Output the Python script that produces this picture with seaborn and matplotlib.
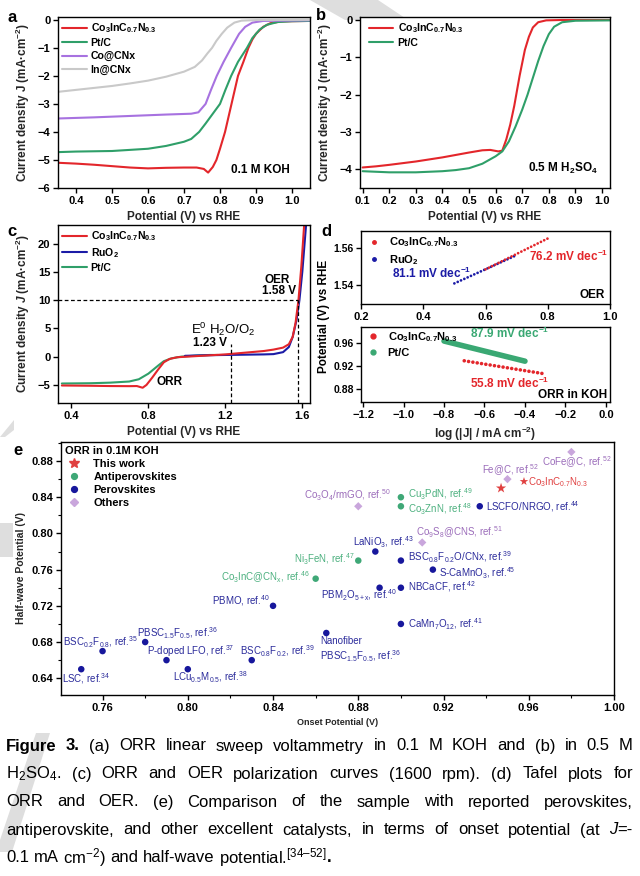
import seaborn as sns
import matplotlib.pyplot as plt
from matplotlib.lines import Line2D
from matplotlib.patches import Polygon
from matplotlib.ticker import MultipleLocator

# ---------------- data ----------------
# (a) ORR LSV in 0.1 M KOH
a_co3_x = [0.35, 0.40, 0.45, 0.50, 0.55, 0.60, 0.65, 0.70, 0.735, 0.755, 0.767, 0.78, 0.79, 0.80, 0.814,
           0.832, 0.85, 0.865, 0.879, 0.89, 0.90, 0.92, 0.94, 0.97, 1.00, 1.05]
a_co3_y = [-5.10, -5.13, -5.17, -5.22, -5.27, -5.30, -5.28, -5.27, -5.27, -5.32, -5.45, -5.25, -5.0, -4.6, -4.0,
           -3.0, -2.0, -1.5, -1.0, -0.7, -0.5, -0.25, -0.12, -0.06, -0.05, -0.04]
a_pt_x = [0.35, 0.40, 0.50, 0.60, 0.65, 0.70, 0.72, 0.742, 0.76, 0.78, 0.80, 0.815, 0.831, 0.85, 0.875,
          0.89, 0.91, 0.93, 0.96, 1.00, 1.05]
a_pt_y = [-4.72, -4.70, -4.68, -4.60, -4.50, -4.35, -4.25, -4.0, -3.7, -3.35, -3.0, -2.5, -2.0, -1.5, -1.0,
          -0.65, -0.35, -0.18, -0.08, -0.05, -0.04]
a_co_x = [0.35, 0.45, 0.55, 0.65, 0.72, 0.74, 0.76, 0.775, 0.791, 0.81, 0.831, 0.853, 0.87, 0.89, 0.92, 1.05]
a_co_y = [-3.52, -3.48, -3.43, -3.38, -3.35, -3.30, -3.0, -2.5, -2.0, -1.5, -1.0, -0.5, -0.25, -0.1, -0.04, -0.02]
a_in_x = [0.35, 0.40, 0.45, 0.50, 0.55, 0.60, 0.65, 0.70, 0.73, 0.75, 0.765, 0.778, 0.79, 0.805, 0.82,
          0.84, 0.86, 0.90, 1.05]
a_in_y = [-2.57, -2.50, -2.43, -2.36, -2.27, -2.17, -2.03, -1.85, -1.68, -1.45, -1.2, -1.0, -0.75, -0.5, -0.28,
          -0.1, -0.03, -0.01, 0.0]

# (b) ORR LSV in 0.5 M H2SO4
b_co3_x = [0.10, 0.15, 0.20, 0.30, 0.40, 0.50, 0.55, 0.58, 0.61, 0.625, 0.64, 0.655, 0.67, 0.68, 0.69, 0.70,
           0.71, 0.725, 0.74, 0.76, 0.79, 0.85, 1.03]
b_co3_y = [-3.95, -3.92, -3.88, -3.79, -3.68, -3.55, -3.49, -3.48, -3.52, -3.50, -3.2, -2.8, -2.3, -1.9, -1.5,
           -1.15, -0.8, -0.45, -0.2, -0.06, -0.01, 0.0, 0.0]
b_pt_x = [0.10, 0.20, 0.30, 0.40, 0.45, 0.50, 0.55, 0.60, 0.625, 0.65, 0.675, 0.70, 0.72, 0.74, 0.76, 0.78,
          0.80, 0.82, 0.85, 0.90, 1.03]
b_pt_y = [-4.05, -4.08, -4.08, -4.05, -4.02, -3.97, -3.85, -3.65, -3.52, -3.25, -2.85, -2.4, -2.0, -1.55, -1.1,
          -0.7, -0.38, -0.18, -0.06, -0.02, -0.01]

# (c) ORR + OER polarization
c_co3_x = [0.35, 0.50, 0.60, 0.70, 0.74, 0.77, 0.79, 0.82, 0.85, 0.88, 0.91, 0.95, 1.00, 1.10, 1.20, 1.30,
           1.40, 1.45, 1.50, 1.53, 1.55, 1.565, 1.58, 1.595, 1.61]
c_co3_y = [-5.1, -5.15, -5.2, -5.22, -5.2, -5.5, -5.0, -3.7, -2.3, -1.0, -0.4, -0.1, 0.0, 0.2, 0.4, 0.7,
           1.0, 1.25, 1.6, 2.2, 3.5, 6.0, 10.0, 16.0, 23.5]
c_ru_x = [0.99, 1.10, 1.20, 1.30, 1.40, 1.45, 1.50, 1.53, 1.55, 1.57, 1.585, 1.60, 1.62]
c_ru_y = [0.15, 0.25, 0.30, 0.35, 0.40, 0.45, 0.8, 1.7, 3.5, 6.5, 10.0, 15.0, 23.5]
c_pt_x = [0.35, 0.50, 0.60, 0.70, 0.75, 0.80, 0.85, 0.88, 0.92, 0.97, 1.05, 1.12, 1.16]
c_pt_y = [-4.75, -4.70, -4.60, -4.40, -4.0, -3.0, -1.6, -0.8, -0.3, 0.0, 0.2, 0.3, 0.3]
J_OER = 10
E_OER = 1.58
E_EQ = 1.23

# (d) Tafel fits (end points of each fitted segment)
oer_co3_x = [0.60, 0.80]
oer_co3_y = [1.5485, 1.5650]
oer_ru_x = [0.50, 0.70]
oer_ru_y = [1.5410, 1.5561]
orr_co3_x = [-0.70, -0.30]
orr_co3_y = [0.9290, 0.9060]
orr_pt_x = [-0.80, -0.40]
orr_pt_y = [0.9635, 0.9283]

# (e) onset vs half-wave potential
e_onset = [0.75, 0.76, 0.78, 0.79, 0.80, 0.83, 0.84, 0.86, 0.88, 0.865, 0.88, 0.888, 0.89, 0.90,
           0.90, 0.90, 0.90, 0.90, 0.91, 0.915, 0.937, 0.947, 0.95, 0.98]
e_half = [0.65, 0.67, 0.68, 0.66, 0.65, 0.66, 0.72, 0.75, 0.77, 0.69, 0.83, 0.78, 0.74, 0.84,
          0.83, 0.77, 0.74, 0.70, 0.79, 0.76, 0.83, 0.85, 0.86, 0.89]
e_group = ['Perovskites'] * 7 + ['Antiperovskites'] * 2 + ['Perovskites', 'Others', 'Perovskites',
           'Perovskites', 'Antiperovskites', 'Antiperovskites', 'Perovskites', 'Perovskites', 'Perovskites',
           'Others', 'Perovskites', 'Perovskites', 'This work', 'Others', 'Others']
e_names = ['LSC, ref.$^{34}$', 'BSC$_{0.2}$F$_{0.8}$, ref.$^{35}$', 'PBSC$_{1.5}$F$_{0.5}$, ref.$^{36}$',
           'P-doped LFO, ref.$^{37}$', 'LCu$_{0.5}$M$_{0.5}$, ref.$^{38}$', 'BSC$_{0.8}$F$_{0.2}$, ref.$^{39}$',
           'PBMO, ref.$^{40}$', 'Co$_3$InC@CN$_x$, ref.$^{46}$', 'Ni$_3$FeN, ref.$^{47}$',
           'Nanofiber\nPBSC$_{1.5}$F$_{0.5}$, ref.$^{36}$', 'Co$_3$O$_4$/rmGO, ref.$^{50}$',
           'LaNiO$_3$, ref.$^{43}$', 'PBM$_2$O$_{5+x}$, ref.$^{40}$', 'Cu$_3$PdN, ref.$^{49}$',
           'Co$_3$ZnN, ref.$^{48}$', 'BSC$_{0.8}$F$_{0.2}$O/CNx, ref.$^{39}$', 'NBCaCF, ref.$^{42}$',
           'CaMn$_7$O$_{12}$, ref.$^{41}$', 'Co$_9$S$_8$@CNS, ref.$^{51}$', 'S-CaMnO$_3$, ref.$^{45}$',
           'LSCFO/NRGO, ref.$^{44}$', 'Co$_3$InC$_{0.7}$N$_{0.3}$', 'Fe@C, ref.$^{52}$', 'CoFe@C, ref.$^{52}$']
e_groups_order = ['This work', 'Antiperovskites', 'Perovskites', 'Others']

# label placement for (e): offset in px from the point, horizontal alignment
e_label_pos = [(-19, -9, 'left'), (-40, 9, 'left'), (-8, 9, 'left'), (-19, 9, 'left'), (-15, -8.5, 'left'),
               (-12, 9, 'left'), (-3, 5, 'right'), (-6, 1, 'right'), (-4, 1.6, 'right'), (-6, -3, 'left'),
               (-11, 11, 'center'), (8, 9.6, 'center'), (17, -7.3, 'right'), (7, 2.8, 'left'),
               (7, -3, 'left'), (7, 2.8, 'left'), (7, 1, 'left'), (7, 0, 'left'), (-6.6, 10, 'left'),
               (6, -3.5, 'left'), (6, 0, 'left'), (27, 5.7, 'left'), (3, 9, 'center'), (5, -10, 'center')]

CO3 = 'Co$_3$InC$_{0.7}$N$_{0.3}$'
RED = '#e3262b'
GREEN = '#2f9f69'
PURPLE = '#a772e0'
GREY = '#c9c9c9'
BLUE = '#1b1ba6'
MARK = {'This work': ('*', '#e04040', 60), 'Antiperovskites': ('o', '#3fa877', 22),
        'Perovskites': ('o', '#17179c', 22), 'Others': ('D', '#c9a6dc', 18)}
TEXTC = {'This work': '#e04040', 'Antiperovskites': '#4cb07f', 'Perovskites': '#2b2b9b',
         'Others': '#9b6cba'}

# ---------------- style ----------------
sns.set_theme(style='ticks')
plt.rcParams['font.family'] = ['Liberation Sans', 'DejaVu Sans']
plt.rcParams.update({
    'font.weight': 'bold', 'axes.labelweight': 'bold',
    'mathtext.fontset': 'custom', 'mathtext.default': 'regular',
    'mathtext.rm': 'Liberation Sans', 'mathtext.it': 'Liberation Sans:italic:bold',
    'mathtext.bf': 'Liberation Sans:bold',
    'axes.linewidth': 1.0, 'axes.edgecolor': 'black',
    'xtick.labelsize': 8, 'ytick.labelsize': 8, 'axes.labelsize': 8.5,
    'xtick.major.size': 3.5, 'ytick.major.size': 3.5, 'xtick.minor.size': 2, 'ytick.minor.size': 2,
    'xtick.major.width': 1, 'ytick.major.width': 1, 'xtick.major.pad': 2, 'ytick.major.pad': 2,
    'xtick.color': 'black', 'ytick.color': 'black', 'text.color': 'black',
})

fig = plt.figure(figsize=(6.4, 8.76), dpi=100)


def axes_px(l, t, r, b):
    return fig.add_axes([l / 640, 1 - b / 876, (r - l) / 640, (b - t) / 876])


def fig_xy(x, y):
    return (x / 640, 1 - y / 876)


# watermark-like grey strokes of the scan
for pts in ([(310, 0), (378, 0), (408, 20), (345, 20)],
            [(0, 523), (13, 523), (13, 557), (0, 557)],
            [(0, 437), (14, 420), (14, 430), (5, 437)],
            [(36, 733), (50, 733), (12, 852), (0, 852), (0, 840)]):
    fig.add_artist(Polygon([fig_xy(*p) for p in pts], closed=True, transform=fig.transFigure,
                           facecolor='#dedede', edgecolor='none', zorder=0))


def line_legend(ax, handles=None, labels=None, **kw):
    args = [] if handles is None else [handles, labels]
    ax.legend(*args, loc='upper left', frameon=False, fontsize=7.6, handlelength=2.3, handletextpad=0.4,
              labelspacing=0.3, borderaxespad=0.2, borderpad=0.2, **kw)


# ---------------- (a) ----------------
ax = axes_px(58, 17, 310, 188)
sns.lineplot(x=a_co3_x, y=a_co3_y, ax=ax, color=RED, lw=1.5, label=CO3)
sns.lineplot(x=a_pt_x, y=a_pt_y, ax=ax, color=GREEN, lw=1.5, label='Pt/C')
sns.lineplot(x=a_co_x, y=a_co_y, ax=ax, color=PURPLE, lw=1.5, label='Co@CNx')
sns.lineplot(x=a_in_x, y=a_in_y, ax=ax, color=GREY, lw=1.5, label='In@CNx')
ax.set_xlim(0.35, 1.05)
ax.set_ylim(-6, 0.1)
ax.xaxis.set_major_locator(MultipleLocator(0.1))
ax.yaxis.set_major_locator(MultipleLocator(1))
ax.set_xlabel('Potential (V) vs RHE')
ax.set_ylabel('Current density J (mA·cm$^{-2}$)')
ax.text(0.92, 0.07, '0.1 M KOH', transform=ax.transAxes, ha='right', va='bottom', fontsize=8.5)
line_legend(ax)

# ---------------- (b) ----------------
ax = axes_px(360, 17, 610, 188)
sns.lineplot(x=b_co3_x, y=b_co3_y, ax=ax, color=RED, lw=1.5, label=CO3)
sns.lineplot(x=b_pt_x, y=b_pt_y, ax=ax, color=GREEN, lw=1.5, label='Pt/C')
ax.set_xlim(0.09, 1.03)
ax.set_ylim(-4.5, 0.08)
ax.xaxis.set_major_locator(MultipleLocator(0.1))
ax.yaxis.set_major_locator(MultipleLocator(1))
ax.set_xlabel('Potential (V) vs RHE')
ax.set_ylabel('Current density J (mA·cm$^{-2}$)')
ax.text(0.95, 0.07, '0.5 M H$_2$SO$_4$', transform=ax.transAxes, ha='right', va='bottom', fontsize=8.5)
line_legend(ax, bbox_to_anchor=(0.02, 1.0))

# ---------------- (c) ----------------
ax = axes_px(58, 225, 310, 403)
sns.lineplot(x=c_pt_x, y=c_pt_y, ax=ax, color=GREEN, lw=1.5, label='Pt/C', sort=False)
sns.lineplot(x=c_ru_x, y=c_ru_y, ax=ax, color=BLUE, lw=1.5, label='RuO$_2$', sort=False)
sns.lineplot(x=c_co3_x, y=c_co3_y, ax=ax, color=RED, lw=1.5, label=CO3, sort=False)
ax.set_xlim(0.33, 1.64)
ax.set_ylim(-8.2, 23.3)
ax.hlines(J_OER, 0.33, E_OER, colors='black', linestyles=(0, (3, 2)), lw=0.9)
ax.vlines(E_OER, -8.2, J_OER, colors='black', linestyles=(0, (3, 2)), lw=0.9)
ax.vlines(E_EQ, -8.2, 2.3, colors='black', linestyles=(0, (3, 2)), lw=0.9)
ax.xaxis.set_major_locator(MultipleLocator(0.4))
ax.yaxis.set_major_locator(MultipleLocator(5))
ax.set_xlabel('Potential (V) vs RHE')
ax.set_ylabel('Current density $\\mathit{J}$ (mA·cm$^{-2}$)')
ax.text(1.47, 13.6, 'OER', ha='center', va='center', fontsize=8.5)
ax.text(1.48, 11.6, '1.58 V', ha='center', va='center', fontsize=8.5)
ax.text(1.19, 4.9, 'E$^0$ H$_2$O/O$_2$', ha='center', va='center', fontsize=9.5, fontweight='normal')
ax.text(1.12, 2.4, '1.23 V', ha='center', va='center', fontsize=8.5)
ax.text(0.91, -4.4, 'ORR', ha='center', va='center', fontsize=8.5)
h, l = ax.get_legend_handles_labels()
line_legend(ax, h[::-1], l[::-1])

# ---------------- (d) ----------------
dots = dict(dash_capstyle='round')
ax = axes_px(361, 231, 610, 304)
sns.lineplot(x=oer_ru_x, y=oer_ru_y, ax=ax, color=BLUE, lw=2.0, ls=(0, (0.01, 1.3)), **dots)
sns.lineplot(x=oer_co3_x, y=oer_co3_y, ax=ax, color=RED, lw=2.0, ls=(0, (0.01, 1.3)), **dots)
ax.set_xlim(0.2, 1.0)
ax.set_ylim(1.530, 1.569)
ax.xaxis.set_major_locator(MultipleLocator(0.2))
ax.yaxis.set_major_locator(MultipleLocator(0.02))
ax.tick_params(axis='y', labelsize=7.5, pad=1.5)
ax.text(0.74, 1.5555, '76.2 mV dec$^{-1}$', color=RED, fontsize=8.5, va='center')
ax.text(0.30, 1.5464, '81.1 mV dec$^{-1}$', color=BLUE, fontsize=8.5, va='center')
ax.text(0.985, 1.5315, 'OER', ha='right', va='bottom', fontsize=8.5)
ax.legend([Line2D([], [], marker='o', ls='', color=RED, ms=2.5),
           Line2D([], [], marker='o', ls='', color=BLUE, ms=2.5)], [CO3, 'RuO$_2$'],
          loc='upper left', frameon=False, fontsize=8, handlelength=1.5, handletextpad=0.6,
          labelspacing=0.35, borderaxespad=0.2, borderpad=0.2)

ax = axes_px(361, 327, 610, 402)
sns.lineplot(x=orr_pt_x, y=orr_pt_y, ax=ax, color='#3aa873', lw=4.0)
sns.lineplot(x=orr_co3_x, y=orr_co3_y, ax=ax, color=RED, lw=2.6, ls=(0, (0.01, 1.2)), **dots)
ax.set_xlim(-1.21, 0.02)
ax.set_ylim(0.857, 0.988)
ax.xaxis.set_major_locator(MultipleLocator(0.2))
ax.yaxis.set_major_locator(MultipleLocator(0.04))
ax.tick_params(axis='y', labelsize=7.5, pad=1.5)
ax.set_xlabel('log (|J| / mA cm$^{-2}$)')
ax.text(-0.67, 0.976, '87.9 mV dec$^{-1}$', color='#3aa873', fontsize=8.5, va='center')
ax.text(-0.67, 0.890, '55.8 mV dec$^{-1}$', color=RED, fontsize=8.5, va='center')
ax.text(0.005, 0.859, 'ORR in KOH', ha='right', va='bottom', fontsize=8.5)
ax.legend([Line2D([], [], marker='o', ls='', color=RED, ms=3.5),
           Line2D([], [], marker='o', ls='', color='#3aa873', ms=3.5)], [CO3, 'Pt/C'],
          loc='upper left', frameon=False, fontsize=8, handlelength=1.5, handletextpad=0.6,
          labelspacing=0.35, borderaxespad=0.2, borderpad=0.1)
fig.text(324 / 640, 1 - 316 / 876, 'Potential (V) vs RHE', rotation=90, ha='center', va='center',
         fontsize=8.5, fontweight='bold')

# ---------------- (e) ----------------
ax = axes_px(61, 442, 614, 695)
for g in e_groups_order:
    idx = [i for i, k in enumerate(e_group) if k == g]
    m, c, s = MARK[g]
    sns.scatterplot(x=[e_onset[i] for i in idx], y=[e_half[i] for i in idx], ax=ax, marker=m,
                    color=c, s=s, edgecolor='none', zorder=3)
for i, name in enumerate(e_names):
    dx, dy, ha = e_label_pos[i]
    va = 'top' if '\n' in name else 'center'
    ax.annotate(name, (e_onset[i], e_half[i]), xytext=(dx * 0.72, dy * 0.72), textcoords='offset points',
                ha=ha, va=va, fontsize=7, fontweight='normal', color=TEXTC[e_group[i]], linespacing=1.25)
    if e_group[i] == 'This work':
        ax.annotate('★', (e_onset[i], e_half[i]), xytext=(22 * 0.72, 5.7 * 0.72), textcoords='offset points',
                    ha='center', va='center', fontsize=8, color=TEXTC['This work'],
                    family=['DejaVu Sans'])
ax.set_xlim(0.7405, 1.0)
ax.set_ylim(0.6215, 0.901)
ax.xaxis.set_major_locator(MultipleLocator(0.04))
ax.xaxis.set_minor_locator(MultipleLocator(0.02))
ax.yaxis.set_major_locator(MultipleLocator(0.04))
ax.yaxis.set_minor_locator(MultipleLocator(0.02))
ax.tick_params(which='minor', width=0.8)
ax.set_xlabel('Onset Potential (V)', fontsize=6.5)
ax.set_ylabel('Half-wave Potential (V)', fontsize=7.5)
handles = [Line2D([], [], marker=MARK[g][0], ls='', color=MARK[g][1], ms=7 if g == 'This work' else 4.2)
           for g in e_groups_order]
leg = ax.legend(handles, e_groups_order, title='ORR in 0.1M KOH', loc='upper left', frameon=False,
                fontsize=8, title_fontproperties={'weight': 'bold', 'size': 8}, alignment='left',
                handlelength=1.6, handletextpad=0.9, labelspacing=0.25, borderaxespad=0.2, borderpad=0.2)

# panel letters
for letter, (x, y) in zip('abcde', [(12, 18), (321, 16), (12, 231), (326, 232), (18, 450)]):
    fig.text(x / 640, 1 - y / 876, letter, fontsize=12, fontweight='bold', ha='center', va='center')

# ---------------- caption (justified) ----------------
B = {'fontweight': 'bold'}
N = {'fontweight': 'normal'}
IT = {'fontweight': 'normal', 'style': 'italic'}
cap_lines = [
    [[('Figure', B)], [('3.', B)]] + '(a) ORR linear sweep voltammetry in 0.1 M KOH and (b) in 0.5 M'.split(),
    'H$_2$SO$_4$. (c) ORR and OER polarization curves (1600 rpm). (d) Tafel plots for'.split(),
    'ORR and OER. (e) Comparison of the sample with reported perovskites,'.split(),
    'antiperovskite, and other excellent catalysts, in terms of onset potential (at'.split()
    + [[('J', IT), ('=-', N)]],
    ['0.1', 'mA', 'cm$^{-2}$)', 'and', 'half-wave', [('potential.$^{[34\u201352]}$', N), ('.', B)]],
]
CAP_FS = 12
X0, X1 = 6, 633
renderer = fig.canvas.get_renderer()
for row, words in enumerate(cap_lines):
    y = 1 - (746 + 28 * row) / 876
    items = []
    for w in words:
        segs = w if isinstance(w, list) else [(w, N)]
        parts = []
        for s, kw in segs:
            t = fig.text(0, y, s, fontsize=CAP_FS, ha='left', va='center', **kw)
            parts.append((t, t.get_window_extent(renderer=renderer).width))
        items.append(parts)
    total = sum(wd for p in items for _, wd in p)
    if row == len(cap_lines) - 1:
        gap = 0.278 * CAP_FS * 100 / 72
    else:
        gap = (X1 - X0 - total) / (len(items) - 1)
    x = X0
    for p in items:
        for t, wd in p:
            t.set_x(x / 640)
            x += wd
        x += gap

fig.savefig('out.png', dpi=100, facecolor='white')
